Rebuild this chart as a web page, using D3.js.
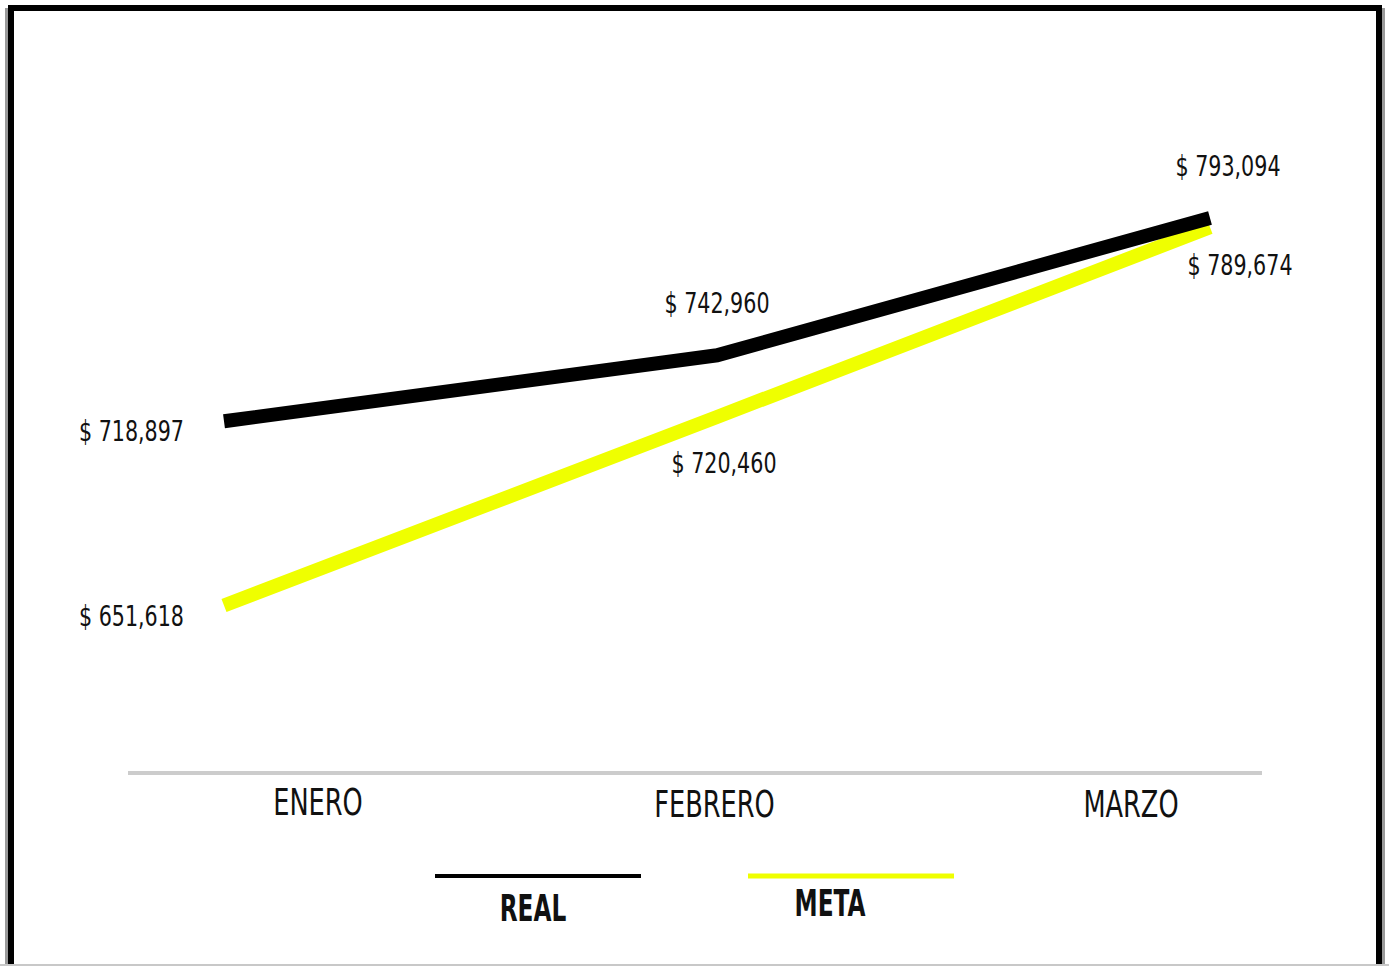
<!DOCTYPE html>
<html><head><meta charset="utf-8">
<script src="https://cdn.jsdelivr.net/npm/d3@7"></script>
<style>
html,body{margin:0;padding:0;background:#fff;}
svg{display:block;}
text{font-family:"Liberation Sans Narrow","Arial Narrow","DejaVu Sans Condensed",sans-serif;fill:#111;}
</style></head>
<body>
<svg id="chart" width="1389" height="966"></svg>
<script>
const categories = ["ENERO", "FEBRERO", "MARZO"];
const realValues = [718897, 742960, 793094];
const metaValues = [651618, 720460, 789674];
const seriesNames = ["REAL", "META"];
const seriesColors = ["#000000", "#efff00"];

const svg = d3.select("#chart");
const W = 1389, H = 966;

// frame
svg.append("rect").attr("x", 5).attr("y", 8).attr("width", 3).attr("height", H).attr("fill", "#9a9a9a");
svg.append("rect").attr("x", 1382).attr("y", 8).attr("width", 3).attr("height", H).attr("fill", "#9a9a9a");
svg.append("rect").attr("x", 11).attr("y", 8).attr("width", 1368).attr("height", H + 10)
  .attr("fill", "#fff").attr("stroke", "#000").attr("stroke-width", 6);
svg.append("rect").attr("x", 0).attr("y", 964).attr("width", W).attr("height", 2).attr("fill", "#c8c8c8");

const x = d3.scalePoint().domain(categories).range([224, 1210]);
const xLab = d3.scalePoint().domain(categories).range([318, 1131]);
const y = d3.scaleLinear().domain([600000, 800000]).range([747, 199]);

// axis baseline
svg.append("line").attr("x1", 128).attr("x2", 1262).attr("y1", 773).attr("y2", 773)
  .attr("stroke", "#cccccc").attr("stroke-width", 4);

// category labels
svg.selectAll("text.cat").data(categories).enter().append("text")
  .attr("class", "cat")
  .attr("transform", (d, i) => `translate(${xLab(d) - (i === 1 ? 10 : 0)},${d === categories[0] ? 815 : 817}) scale(0.77,1)`)
  .attr("text-anchor", "middle")
  .style("font-size", "37px")
  .text(d => d);

const series = [
  { name: seriesNames[0], color: seriesColors[0], values: realValues, above: true },
  { name: seriesNames[1], color: seriesColors[1], values: metaValues, above: false }
];

const line = d3.line().x((d, i) => x(categories[i])).y(d => y(d));

// draw yellow first, black on top
[series[1], series[0]].forEach(s => {
  svg.append("path").datum(s.values)
    .attr("d", line)
    .attr("fill", "none")
    .attr("stroke", s.color)
    .attr("stroke-width", 14)
    .attr("stroke-linejoin", "miter");
});

const fmt = v => "$ " + d3.format(",")(v);
const last = categories.length - 1;
series.forEach(s => {
  svg.selectAll(null).data(s.values).enter().append("text")
    .attr("transform", (d, i) => {
      const px = i === 0 ? x(categories[i]) - 40 : x(categories[i]) + (i === last ? (s.above ? 18 : 30) : (s.above ? 0 : 7));
      const py = i === 0 ? y(d) + 20 : y(d) + (s.above ? -42 : (i === last ? 48 : 56));
      return `translate(${px},${py}) scale(0.82,1)`;
    })
    .attr("text-anchor", (d, i) => i === 0 ? "end" : "middle")
    .style("font-size", "28px")
    .text(fmt);
});

// legend
const legX = [435, 748];
const legLabelY = [921, 916];
series.forEach((s, i) => {
  svg.append("line").attr("x1", legX[i]).attr("x2", legX[i] + 206)
    .attr("y1", 876).attr("y2", 876)
    .attr("stroke", s.color).attr("stroke-width", i === 0 ? 4 : 5);
  svg.append("text")
    .attr("transform", `translate(${legX[i] + (i === 0 ? 98 : 82)},${legLabelY[i]}) scale(0.68,1)`)
    .attr("text-anchor", "middle")
    .style("font-size", "38px").style("font-weight", "bold")
    .text(s.name);
});
</script>
</body></html>
